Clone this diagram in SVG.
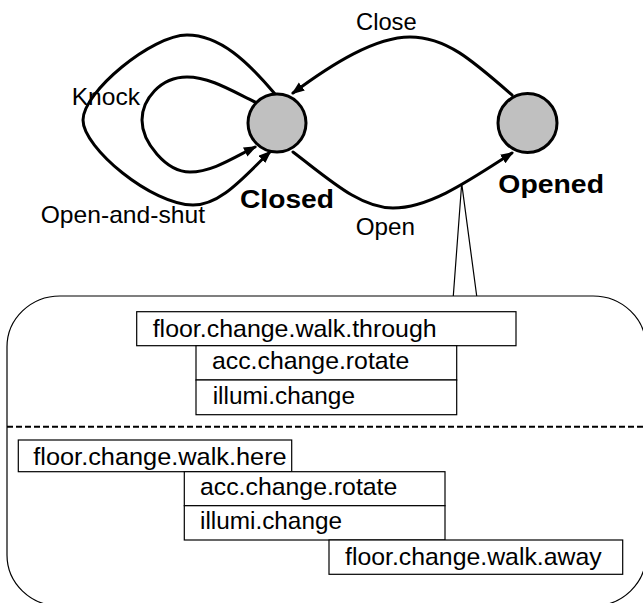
<svg xmlns="http://www.w3.org/2000/svg" width="643" height="603" viewBox="0 0 643 603">
<style>
.edge{fill:none;stroke:#000;stroke-width:3;stroke-linecap:round;stroke-linejoin:round}
.state{fill:#c0c0c0;stroke:#000;stroke-width:3}
.lbl{font-family:"Liberation Sans",Arial,sans-serif;font-size:24px;fill:#000}
.sname{font-family:"Liberation Sans",Arial,sans-serif;font-size:26px;font-weight:bold;fill:#000}
.box{fill:#fff;stroke:#000;stroke-width:1.2}
.btxt{font-family:"Liberation Sans",Arial,sans-serif;font-size:24.8px;fill:#000}
.thin{fill:none;stroke:#000;stroke-width:1.2}
</style>
<defs>
<marker id="arr" markerUnits="userSpaceOnUse" markerWidth="14" markerHeight="12" refX="11" refY="5" orient="auto">
<path d="M0,0 L13,5 L0,10 Z" fill="#000"/>
</marker>
</defs>
<rect width="643" height="603" fill="#fff"/>
<g id="connectors">
<path class="edge" d="M275,94 C248,62 220,35 187,35 C152,35 83,92 83,120 C83,148 152,205 193,205 C222,205 246,174 270,152" marker-end="url(#arr)"/>
<path class="edge" d="M257,103 C232,91 210,77 187,77 C160,77 142,100 142,120 C142,142 166,172 190,172 C212,172 233,158 255,147" marker-end="url(#arr)"/>
<path class="edge" d="M512,95 C472,60 446,37 410,37 C375,37 332,64 293,93" marker-end="url(#arr)"/>
<path class="edge" d="M293,152 C330,180 360,208 393,208 C430,208 470,180 512,153" marker-end="url(#arr)"/>
<path class="thin" d="M453.3,296 L461.7,183.3 L476.7,296"/>
</g>
<g id="edge-labels">
<text class="lbl" x="356" y="30" textLength="60.7" lengthAdjust="spacingAndGlyphs">Close</text>
<text class="lbl" x="71.7" y="105" textLength="68.3" lengthAdjust="spacingAndGlyphs">Knock</text>
<text class="lbl" x="40.7" y="222.7" textLength="164.3" lengthAdjust="spacingAndGlyphs">Open-and-shut</text>
<text class="lbl" x="355.7" y="235" textLength="59.3" lengthAdjust="spacingAndGlyphs">Open</text>
</g>
<g id="node-closed">
<circle class="state" cx="277" cy="123" r="29"/>
<text class="sname" x="240" y="208.3" textLength="94" lengthAdjust="spacingAndGlyphs">Closed</text>
</g>
<g id="node-opened">
<circle class="state" cx="527.5" cy="123" r="29.5"/>
<text class="sname" x="498.3" y="193.3" textLength="105.7" lengthAdjust="spacingAndGlyphs">Opened</text>
</g>
<g id="detail-panel">
<rect x="7" y="296" width="639" height="310" rx="53" ry="51" fill="none" stroke="#000" stroke-width="1.2"/>
<line x1="7" y1="426.7" x2="643" y2="426.7" stroke="#000" stroke-width="2" stroke-dasharray="6 3"/>
</g>
<g id="box-through">
<rect class="box" x="136.7" y="311.7" width="379.3" height="34"/>
<text class="btxt" x="152.7" y="336.7" textLength="284" lengthAdjust="spacingAndGlyphs">floor.change.walk.through</text>
</g>
<g id="box-rotate-1">
<rect class="box" x="196" y="345.7" width="260.7" height="34.3"/>
<text class="btxt" x="212" y="369.3" textLength="197.3" lengthAdjust="spacingAndGlyphs">acc.change.rotate</text>
</g>
<g id="box-illumi-1">
<rect class="box" x="196" y="380" width="260.7" height="34.7"/>
<text class="btxt" x="212.7" y="403.5" textLength="142.3" lengthAdjust="spacingAndGlyphs">illumi.change</text>
</g>
<g id="box-here">
<rect class="box" x="18.3" y="440" width="273.4" height="31.7"/>
<text class="btxt" x="33.3" y="464.5" textLength="253.4" lengthAdjust="spacingAndGlyphs">floor.change.walk.here</text>
</g>
<g id="box-rotate-2">
<rect class="box" x="184.3" y="471.7" width="260.7" height="34"/>
<text class="btxt" x="200" y="494.5" textLength="197.3" lengthAdjust="spacingAndGlyphs">acc.change.rotate</text>
</g>
<g id="box-illumi-2">
<rect class="box" x="184.3" y="505.7" width="260.7" height="34.3"/>
<text class="btxt" x="200" y="528.5" textLength="142" lengthAdjust="spacingAndGlyphs">illumi.change</text>
</g>
<g id="box-away">
<rect class="box" x="329" y="540" width="293.7" height="34.3"/>
<text class="btxt" x="345" y="565" textLength="256.7" lengthAdjust="spacingAndGlyphs">floor.change.walk.away</text>
</g>
</svg>
